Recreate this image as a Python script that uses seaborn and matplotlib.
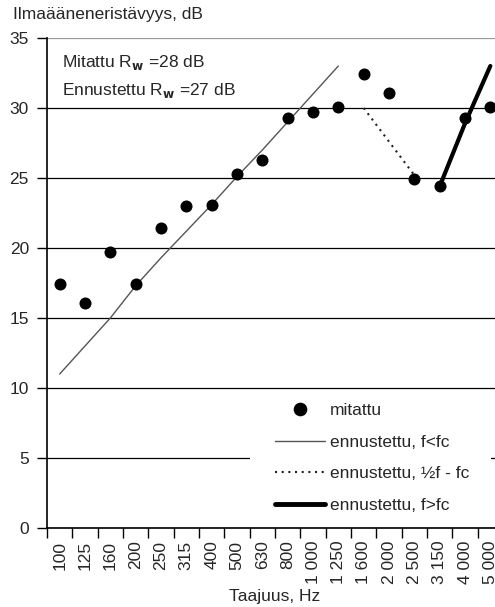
import numpy as np
import pandas as pd
import matplotlib
matplotlib.use("Agg")
import matplotlib.pyplot as plt
import seaborn as sns
from matplotlib.lines import Line2D
from matplotlib.patches import Rectangle

categories = ["100", "125", "160", "200", "250", "315", "400", "500", "630", "800",
              "1 000", "1 250", "1 600", "2 000", "2 500", "3 150", "4 000", "5 000"]
measured = [17.4, 16.1, 19.7, 17.4, 21.4, 23.0, 23.1, 25.3, 26.3, 29.3,
            29.7, 30.1, 32.4, 31.1, 24.9, 24.4, 29.3, 30.1]
pred_below = [11.0, 13.0, 15.0, 17.3, 19.3, 21.2, 23.1, 25.1, 27.0, 29.0, 31.0, 33.0]   # 100..1250
pred_mid_cats = ["1 600", "2 000", "2 500"]
pred_mid = [30.0, 27.6, 25.2]
pred_above_cats = ["3 150", "4 000", "5 000"]
pred_above = [24.4, 28.9, 33.0]

sns.set_theme(style="white")
plt.rcParams['font.family'] = ['Liberation Sans', 'DejaVu Sans']

pos = {c: i for i, c in enumerate(categories)}
df_meas = pd.DataFrame({"x": [pos[c] for c in categories], "y": measured})
df_below = pd.DataFrame({"x": [pos[c] for c in categories[:len(pred_below)]], "y": pred_below})
df_mid = pd.DataFrame({"x": [pos[c] for c in pred_mid_cats], "y": pred_mid})
df_above = pd.DataFrame({"x": [pos[c] for c in pred_above_cats], "y": pred_above})

W, H = 495, 607
fig = plt.figure(figsize=(W / 100, H / 100), dpi=100)
ax = fig.add_axes([47 / W, (H - 528) / H, (503 - 47) / W, (528 - 38) / H])

fs = 12.5

sns.lineplot(data=df_below, x="x", y="y", ax=ax, color="#555555", lw=1.0, sort=False, zorder=3)
sns.lineplot(data=df_mid, x="x", y="y", ax=ax, color="#222222", lw=1.5, linestyle=(0, (1, 2.2)), sort=False, zorder=3)
sns.lineplot(data=df_above, x="x", y="y", ax=ax, color="black", lw=3.0, sort=False, zorder=3)
sns.scatterplot(data=df_meas, x="x", y="y", ax=ax, color="black", s=75, edgecolor="black", linewidth=0, zorder=4)

ax.set_xlim(-0.5, len(categories) - 0.5)
ax.set_ylim(0, 35)
ax.set_yticks(np.arange(0, 36, 5))
ax.yaxis.grid(True, color="black", lw=0.9)
ax.get_ygridlines()[-1].set_color("#999999")
ax.set_axisbelow(True)

ax.set_xticks(np.arange(-0.5, len(categories), 1.0))
ax.set_xticklabels([])
ax.set_xticks(np.arange(len(categories)), minor=True)
ax.set_xticklabels(categories, minor=True, rotation=90, fontsize=fs)
ax.tick_params(axis="x", which="major", direction="out", length=7, width=1, color="black", bottom=True)
ax.tick_params(axis="x", which="minor", length=0, pad=9, bottom=True)
ax.tick_params(axis="y", direction="out", length=7, width=1, color="black", left=True, labelsize=fs, pad=6)

for s in ["top", "right"]:
    ax.spines[s].set_visible(False)
for s in ["left", "bottom"]:
    ax.spines[s].set_color("black")
    ax.spines[s].set_linewidth(1.2)

ax.set_xlabel("Taajuus, Hz", fontsize=fs)
ax.xaxis.set_label_coords(0.5, -(589 - 528) / 490)
ax.set_ylabel("")
fig.text(13 / W, 1 - 15 / H, "Ilmaääneneristävyys, dB", fontsize=fs, va="center", ha="left")
ax.text(62 / W, 1 - 62 / H, r"Mitattu R$_{\mathbf{w}}$ =28 dB", transform=fig.transFigure,
        fontsize=fs, va="center", ha="left")
ax.text(62 / W, 1 - 90 / H, r"Ennustettu R$_{\mathbf{w}}$ =27 dB", transform=fig.transFigure,
        fontsize=fs, va="center", ha="left")

# white background behind the legend (hides part of the 5 dB gridline)
ax.add_patch(Rectangle((250 / W, 1 - 518 / H), (491 - 250) / W, (518 - 395) / H,
                       transform=fig.transFigure, facecolor="white", edgecolor="none", zorder=1))

handles = [
    Line2D([], [], marker="o", color="black", linestyle="none", markersize=8.8),
    Line2D([], [], color="#555555", lw=1.0),
    Line2D([], [], color="#222222", lw=1.5, linestyle=(0, (1, 2.2))),
    Line2D([], [], color="black", lw=3.5),
]
labels = ["mitattu", "ennustettu, f<fc", "ennustettu, ½f - fc", "ennustettu, f>fc"]
leg = ax.legend(handles, labels, loc="upper left", bbox_to_anchor=(275 / W, 1 - 403 / H),
                bbox_transform=fig.transFigure, fontsize=fs, frameon=False,
                handlelength=2.88, handletextpad=0.3, labelspacing=0.95, borderpad=0, borderaxespad=0)

fig.savefig("out.png", dpi=100)
